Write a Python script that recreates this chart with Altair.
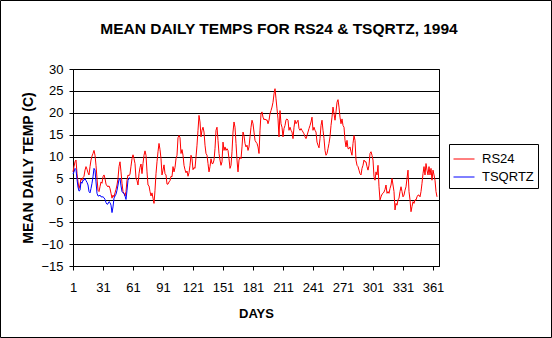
import altair as alt
import pandas as pd

# RS24 mean daily temperature (C), days 1..365
rs24 = [
    6.5, 7.7, 8.8, 9.2, 6.1, 4.2, 2.7, 3.5, 5.0, 4.6,
    5.2, 5.5, 6.9, 7.7, 7.1, 6.3, 5.8, 7.7, 9.2, 10.1,
    10.7, 11.4, 10.3, 8.0, 5.0, 2.3, 2.0, 3.1, 4.2, 3.9,
    5.4, 5.8, 5.0, 3.7, 3.3, 3.1, 3.3, 2.7, 1.6, 0.5,
    1.2, 0.8, 1.7, 2.5, 3.5, 5.0, 7.7, 8.8, 6.5, 3.9,
    2.0, 1.6, 1.0, 2.0, 4.6, 5.8, 5.6, 6.0, 7.8, 9.5,
    10.4, 9.5, 8.4, 5.0, 4.5, 3.5, 6.1, 7.5, 8.3, 6.1,
    8.4, 10.3, 11.3, 10.3, 6.5, 3.5, 3.3, 2.0, 1.0, 1.7,
    0.5, -0.7, 2.3, 6.1, 8.8, 11.1, 13.0, 11.6, 9.5, 5.8,
    6.9, 8.1, 6.1, 5.8, 3.7, 3.7, 4.2, 4.5, 5.5, 5.4,
    7.7, 6.5, 7.5, 9.5, 10.3, 14.3, 14.8, 14.3, 10.7, 11.6,
    10.3, 8.0, 7.0, 6.3, 6.7, 5.5, 6.3, 8.0, 10.3, 9.5,
    7.0, 7.5, 7.3, 9.9, 12.6, 16.0, 19.4, 17.9, 14.5, 16.0,
    16.7, 15.6, 12.6, 10.7, 10.3, 8.4, 6.5, 7.7, 9.5, 8.4,
    8.4, 9.2, 11.8, 16.0, 16.7, 13.7, 10.7, 9.2, 8.0, 8.8,
    13.3, 11.4, 12.2, 11.4, 11.8, 11.4, 9.5, 7.3, 8.0, 11.1,
    15.6, 17.9, 16.7, 13.0, 9.2, 6.5, 9.2, 9.9, 9.5, 12.2,
    15.6, 14.8, 13.0, 12.2, 12.6, 11.4, 12.2, 14.5, 16.7, 18.3,
    17.5, 15.6, 13.7, 13.3, 13.0, 12.2, 10.7, 16.0, 19.8, 20.2,
    19.0, 18.4, 18.6, 18.3, 18.4, 17.5, 18.3, 19.8, 20.5, 21.3,
    22.4, 24.3, 25.5, 23.2, 20.9, 18.6, 14.5, 20.5, 17.5, 16.7,
    14.5, 16.4, 17.1, 18.4, 18.6, 18.3, 16.0, 16.7, 16.0, 15.6,
    14.1, 16.7, 18.3, 17.5, 17.9, 18.3, 16.4, 16.0, 16.4, 16.0,
    15.6, 15.2, 14.5, 14.1, 14.8, 15.6, 16.4, 17.1, 17.9, 19.0,
    16.0, 16.7, 16.0, 15.6, 13.3, 12.6, 12.0, 14.1, 17.1, 18.3,
    16.0, 14.1, 11.4, 10.3, 10.7, 11.8, 13.0, 14.5, 17.1, 19.0,
    21.3, 19.8, 18.3, 20.2, 22.4, 23.0, 21.3, 19.0, 17.5, 18.6,
    17.1, 16.7, 13.7, 12.2, 13.7, 11.8, 11.8, 12.2, 11.1, 10.3,
    13.0, 14.8, 13.7, 9.2, 8.0, 7.7, 6.9, 6.1, 5.8, 7.3,
    8.0, 9.2, 8.8, 8.8, 7.7, 6.9, 8.0, 10.7, 11.1, 10.3,
    9.2, 5.4, 4.6, 6.5, 5.8, 8.0, 3.1, 0.1, 0.8, 1.4,
    1.6, 1.9, 2.5, 3.5, 1.6, 2.0, 1.6, 2.7, 3.5, 5.0,
    3.5, 2.0, -2.2, -0.7, -1.1, 0.1, 0.5, 2.0, 3.1, 2.0,
    0.8, 1.2, 2.3, 3.1, 5.0, 6.9, 2.0, 0.1, -2.6, -1.4,
    -0.3, -0.7, 0.1, 0.1, 0.8, 1.2, 1.2, 0.8, 2.0, 3.9,
    6.1, 7.7, 5.8, 8.4, 6.9, 5.8, 7.7, 5.8, 7.3, 4.6,
    6.9, 5.8, 4.6, 2.0, 0.8,
]

# TSQRTZ mean daily temperature (C), days 1..58
tsqrtz = [
    6.0, 6.5, 7.3, 7.0, 4.8, 3.0, 2.1, 2.3, 4.2, 3.9,
    4.6, 4.6, 5.0, 4.5, 4.1, 3.5, 2.0, 1.7, 2.7, 3.9,
    5.4, 7.3, 6.9, 4.2, 1.6, 1.0, 1.0, 1.2, 0.8, 0.8,
    0.8, 0.6, 0.2, -0.5, -0.9, -0.8, -0.3, -0.5, -1.1, -2.8,
    -1.5, 0.5, 1.0, 1.4, 2.3, 3.5, 4.8, 5.0, 3.3, 2.0,
    1.7, 1.6, 1.0, 0.2, 2.3, 4.6, 5.0, 5.2,
]

series_names = ["RS24", "TSQRTZ"]
series_colors = ["#FF0000", "#0000FF"]
x_ticks = list(range(1, 362, 30))
y_ticks = list(range(-15, 31, 5))
chart_title = "MEAN DAILY TEMPS FOR RS24 & TSQRTZ, 1994"

rows = []
for i, v in enumerate(rs24):
    rows.append({"day": i + 1, "temp": v, "series": "RS24"})
for i, v in enumerate(tsqrtz):
    rows.append({"day": i + 1, "temp": v, "series": "TSQRTZ"})
df = pd.DataFrame(rows)

FONT = "Liberation Sans"
W, H = 366, 197
PL, PT = 73, 69

lines = alt.Chart(df).mark_line(strokeWidth=1, interpolate="linear").encode(
    x=alt.X("day:Q",
            scale=alt.Scale(domain=[1, 367], nice=False, zero=False),
            axis=alt.Axis(values=x_ticks, title="DAYS", grid=False,
                          tickSize=4, tickColor="black", domainColor="black",
                          labelFontSize=13, labelFont=FONT, labelColor="black",
                          labelPadding=11, titleFont=FONT, titleFontSize=13,
                          titleFontWeight="bold", titleColor="black",
                          titlePadding=13, labelFlush=False)),
    y=alt.Y("temp:Q",
            scale=alt.Scale(domain=[-15, 30], nice=False, zero=False),
            axis=alt.Axis(values=y_ticks, title="MEAN DAILY TEMP (C)",
                          grid=True, gridColor="black", gridOpacity=1,
                          gridWidth=1, tickSize=4, tickColor="black",
                          domainColor="black", labelFontSize=13,
                          labelFont=FONT, labelColor="black", labelPadding=6,
                          titleFont=FONT, titleFontSize=14,
                          titleFontWeight="bold", titleColor="black",
                          titlePadding=5)),
    color=alt.Color("series:N",
                    scale=alt.Scale(domain=series_names, range=series_colors),
                    legend=alt.Legend(title=None, orient="none",
                                      legendX=376, legendY=75,
                                      strokeColor="black", fillColor="white",
                                      padding=4, symbolType="stroke",
                                      symbolSize=441, symbolStrokeWidth=1,
                                      labelFontSize=13, labelFont=FONT,
                                      labelColor="black", rowPadding=-2,
                                      labelOffset=7)),
)

frame = alt.Chart(pd.DataFrame({"k": [0]})).mark_rect(
    fill=None, stroke="black", strokeWidth=1
).encode(
    x=alt.value(-PL + 0.5), x2=alt.value(552 - PL - 0.5),
    y=alt.value(-PT + 0.5), y2=alt.value(338 - PT - 0.5),
)

title_text = alt.Chart(pd.DataFrame({"t": [chart_title]})).mark_text(
    font=FONT, fontSize=15.5, fontWeight="bold", color="black",
    align="center", baseline="alphabetic"
).encode(
    text="t:N",
    x=alt.value(279 - PL),
    y=alt.value(34 - PT),
)

chart = alt.layer(lines, frame, title_text).properties(
    width=W, height=H,
    autosize=alt.AutoSizeParams(type="none"),
    padding={"left": PL, "top": PT, "right": 552 - PL - W, "bottom": 338 - PT - H},
    background="white",
).configure_view(stroke="black", strokeWidth=1)

chart.save("out.html", embed_options={"renderer": "svg", "actions": False})
